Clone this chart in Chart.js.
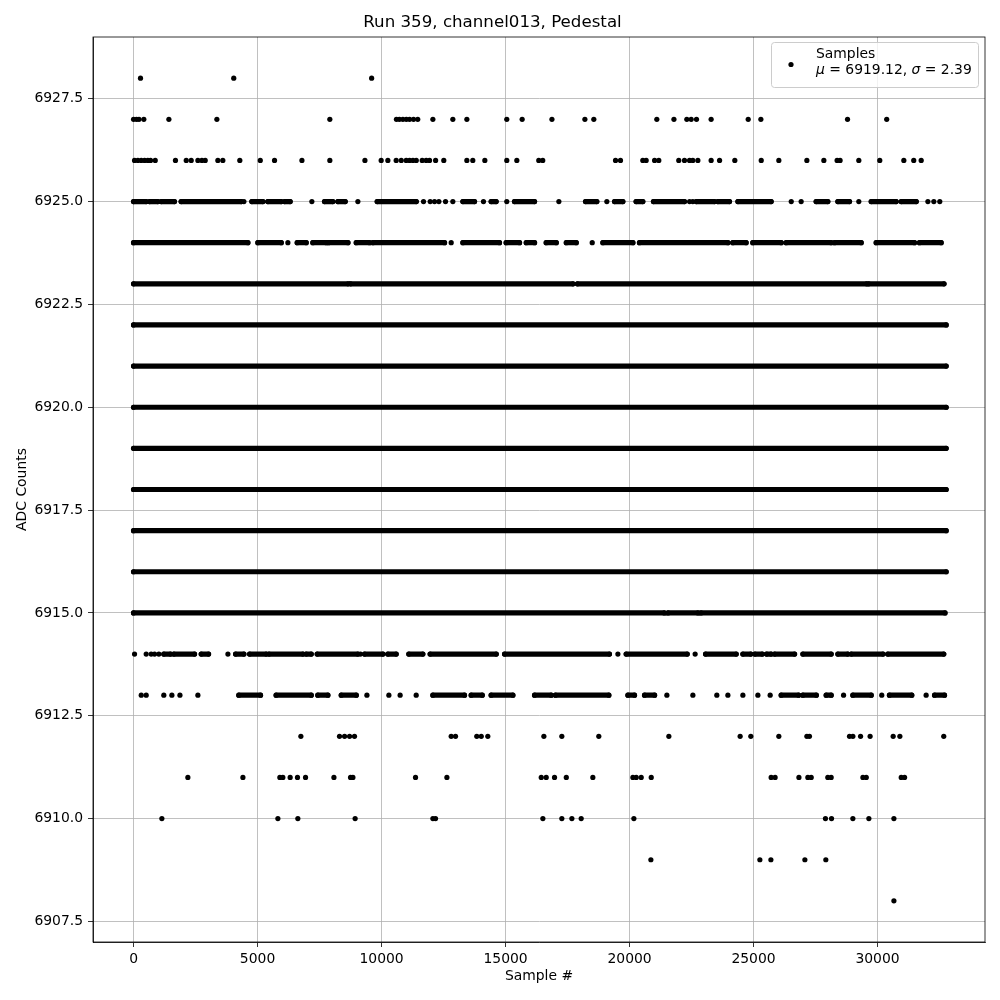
<!DOCTYPE html>
<html lang="en">
<head>
<meta charset="UTF-8">
<title>Run 359, channel013, Pedestal</title>
<script src="https://cdn.jsdelivr.net/npm/chart.js"></script>
<style>
    body { margin: 0; background: #fff; }
    #chart { display: block; }
</style>
</head>
<body>
<canvas id="chart" width="1000" height="1000"></canvas>
<script>
    // tick positions
    var xTicks = [0, 5000, 10000, 15000, 20000, 25000, 30000];
    var yTicks = [6907.5, 6910, 6912.5, 6915, 6917.5, 6920, 6922.5, 6925, 6927.5];

    // ADC levels (one row of samples per level)
    var levels = [6908, 6909, 6910, 6911, 6912, 6913, 6914, 6915, 6916, 6917, 6918,
                  6919, 6920, 6921, 6922, 6923, 6924, 6925, 6926, 6927, 6928];

    // sample numbers; a [from, to] pair is a dense run of samples
    var row6908 = [30660];
    var row6909 = [20860, 25255, 25700, 27070, 27915];
    var row6910 = [1142, 5820, 6625, 8935, 12070, 12177, 16505, 17270, 17675, 18050, 20175,
                   27900, 28145, 29005, 29650, 30660];
    var row6911 = [2190, 4410, 5900, 6020, 6315, 6610, 6935, 8080, 8750, 8845, 11370, 12635,
                   16440, 16640, 16975, 17450, 18520, 20135, 20270, 20470, 20875, 25710, 25870,
                   26830, 27190, 27325, 27995, 28130, 29410, 29545, 30955, 31090];
    var row6912 = [6747, 8305, 8510, 8710, 8910, 12808, 12983, 13840, 14020, 14285, 16545,
                   17270, 18760, 21585, 24460, 24890, 26020, 27150, 27255, 28870, 29005, 29315,
                   29700, 30630, 30900, 32670];
    var row6913 = [310, 510, 1220, 1545, 1870, 2595, [4245, 5120], [5750, 7165], [7430, 7835],
                   [8375, 8980], 9410, 10295, 10750, 11397, [12070, 13345], [13615, 14060],
                   [14420, 15295], [16170, 16840], [17015, 19165], [19935, 20200], [20605, 21010],
                   21505, 22553, 23520, 23965, 24570, 25175, 25670, [26115, 26815], [26990, 27530],
                   [27930, 28130], 28630, [29005, 29745], 30170, [30480, 31380], 31960, [32300, 32700]];
    var row6914 = [40, 510, 712, 847, 1020, [1220, 1490], [1625, 2460], [2730, 3025], 3805,
                   [4115, 4450], [4680, 5350], [5460, 6830], [6960, 7165], [7405, 9045], 9150,
                   [9315, 10055], [10255, 10590], [11100, 11665], [11960, 14625], [14960, 19190],
                   19530, [19865, 22325], 22645, [23065, 24300], [24570, 24890], [25055, 25350],
                   [25525, 25710], [25850, 26655], [26990, 28130], [28400, 28800], [28940, 30220],
                   [30415, 32670]];
    var row6915 = [[0, 21400], [21550, 22760], [22880, 32720]];
    var row6916 = [[0, 32767]];
    var row6917 = [[0, 32767]];
    var row6918 = [[0, 32767]];
    var row6919 = [[0, 32767]];
    var row6920 = [[0, 32767]];
    var row6921 = [[0, 32767]];
    var row6922 = [[0, 32767]];
    var row6923 = [[0, 8650], [8750, 17720], [17900, 29560], [29640, 32680]];
    var row6924 = [[0, 4610], [5013, 5955], 6223, [6600, 6962], [7230, 7770], [7865, 8645],
                   [8980, 9515], [9650, 12540], 12808, [13280, 14757], [15025, 15565],
                   [15835, 16170], [16640, 17045], [17450, 17850], 18495, [18925, 20135],
                   [20400, 23965], [24165, 24700], [24970, 26115], [26315, 28130], [28265, 29340],
                   [29945, 31490], [31690, 32565]];
    var row6925 = [[0, 510], [645, 980], [1115, 1650], [1920, 4345], 4450, [4770, 5215],
                   [5415, 5955], [6090, 6315], 7190, [7700, 8035], [8240, 8535], 9045,
                   [9825, 11400], 11693, 11962, 12137, 12312, 12580, 12875, [13280, 13750], 14110,
                   [14420, 14620], 15050, [15360, 16170], 17150, [18225, 18680], 19085,
                   [19395, 19730], [20265, 20535], [20965, 22216], 22420, 22550, [22690, 23425],
                   [23560, 24030], [24370, 25710], 26520, 26920, [27525, 27995], [28400, 28870],
                   29245, [29745, 30750], [30955, 31560], 32030, 32270, 32510];
    var row6926 = [40, 175, 310, 445, 575, 685, 875, 1690, 2125, 2325, 2595, 2755, 2890, 3400,
                   3600, 4285, 5110, 5685, 6790, 7915, 9330, 9985, 10255, 10590, 10795, 10995,
                   11130, 11265, 11400, 11640, 11800, 11935, 12180, 12510, 13440, 13680, 14165,
                   15050, 15455, 16340, 16500, 19435, 19635, 20535, 20670, 21010, 21180, 21985,
                   22215, 22420, 22550, 22755, 23290, 23630, 24245, 25310, 26020, 27150, 27835,
                   28370, 28490, 29245, 30090, 31060, 31460, 31760];
    var row6927 = [0, 120, 220, 415, 1425, 3360, 7915, 10600, 10720, 10860, 11000, 11130,
                   11290, 11460, 12070, 12875, 13440, 15050, 15670, 16870, 18200, 18560, 21100,
                   21790, 22310, 22485, 22700, 23290, 24785, 25295, 28790, 30370];
    var row6928 = [280, 4040, 9600];

    var rows = [row6908, row6909, row6910, row6911, row6912, row6913, row6914, row6915,
                row6916, row6917, row6918, row6919, row6920, row6921, row6922, row6923,
                row6924, row6925, row6926, row6927, row6928];

    var legendLine1 = "Samples";
    var legendLine2 = [["\u03bc", true], [" = 6919.12, ", false], ["\u03c3", true], [" = 2.39", false]];

    var dots = [];
    var runs = [];
    rows.forEach((row, i) => {
        var y = levels[i];
        row.forEach(e => {
            if (Array.isArray(e)) {
                runs.push({x: e[0], y: y}, {x: e[1], y: y}, {x: e[1], y: null});
                dots.push({x: e[0], y: y}, {x: e[1], y: y});
            } else {
                dots.push({x: e, y: y});
            }
        });
    });

    var FONT = "'DejaVu Sans', sans-serif";

    // top/right spines and the legend box
    var frameAndLegend = {
        id: "frameAndLegend",
        afterDraw(chart) {
            var ctx = chart.ctx;
            var a = chart.chartArea;
            ctx.save();
            ctx.strokeStyle = "#000";
            ctx.lineWidth = 0.8;
            ctx.strokeRect(a.left, a.top, a.right - a.left, a.bottom - a.top);

            // legend
            var bx = 771.5, by = 42.5, bw = 207, bh = 45, r = 3;
            ctx.beginPath();
            ctx.roundRect(bx, by, bw, bh, r);
            ctx.fillStyle = "rgba(255,255,255,0.8)";
            ctx.fill();
            ctx.strokeStyle = "#cccccc";
            ctx.lineWidth = 1;
            ctx.stroke();

            ctx.beginPath();
            ctx.arc(791, 64.5, 2.6, 0, Math.PI * 2);
            ctx.fillStyle = "#000";
            ctx.fill();

            ctx.textBaseline = "middle";
            ctx.textAlign = "left";
            ctx.font = "13.9px " + FONT;
            ctx.fillText(legendLine1, 816, 54);
            var x = 816;
            legendLine2.forEach(p => {
                ctx.font = (p[1] ? "italic " : "") + "13.9px " + FONT;
                ctx.fillText(p[0], x, 70);
                x += ctx.measureText(p[0]).width;
            });
            ctx.restore();
        }
    };

    new Chart(document.getElementById("chart"), {
        type: "scatter",
        data: {
            datasets: [{
                label: "runs",
                data: runs,
                showLine: true,
                spanGaps: false,
                borderColor: "#000",
                borderWidth: 5.2,
                borderCapStyle: "round",
                pointRadius: 0,
                pointHoverRadius: 0
            }, {
                label: "Samples",
                data: dots,
                backgroundColor: "#000",
                borderWidth: 0,
                pointRadius: 2.6
            }]
        },
        options: {
            responsive: false,
            animation: false,
            layout: {padding: {top: 0, right: 15, bottom: 0, left: 0}},
            plugins: {
                legend: {display: false},
                tooltip: {enabled: false},
                title: {
                    display: true,
                    text: "Run 359, channel013, Pedestal",
                    color: "#000",
                    font: {family: FONT, size: 16.67, weight: "normal"},
                    padding: {top: 13, bottom: 4}
                }
            },
            scales: {
                x: {
                    type: "linear",
                    min: -1635,
                    max: 34333,
                    afterBuildTicks: s => { s.ticks = xTicks.map(v => ({value: v})); },
                    afterFit: s => { s.height = 58; },
                    ticks: {
                        color: "#000",
                        font: {family: FONT, size: 13.9},
                        padding: 4,
                        maxRotation: 0,
                        callback: v => String(v)
                    },
                    grid: {color: "#b0b0b0", lineWidth: 0.8, tickLength: 5, tickColor: "#000", tickWidth: 0.8},
                    border: {display: true, color: "#000", width: 0.8},
                    title: {
                        display: true,
                        text: "Sample #",
                        color: "#000",
                        font: {family: FONT, size: 13.9},
                        padding: {top: 0, bottom: 15}
                    }
                },
                y: {
                    type: "linear",
                    min: 6907,
                    max: 6929,
                    afterBuildTicks: s => { s.ticks = yTicks.map(v => ({value: v})); },
                    afterFit: s => { s.width = 93; },
                    ticks: {
                        color: "#000",
                        font: {family: FONT, size: 13.9},
                        padding: 5,
                        callback: v => v.toFixed(1)
                    },
                    grid: {color: "#b0b0b0", lineWidth: 0.8, tickLength: 5, tickColor: "#000", tickWidth: 0.8},
                    border: {display: true, color: "#000", width: 0.8},
                    title: {
                        display: true,
                        text: "ADC Counts",
                        color: "#000",
                        font: {family: FONT, size: 13.9},
                        padding: {top: 14, bottom: 0}
                    }
                }
            }
        },
        plugins: [frameAndLegend]
    });
</script>
</body>
</html>
